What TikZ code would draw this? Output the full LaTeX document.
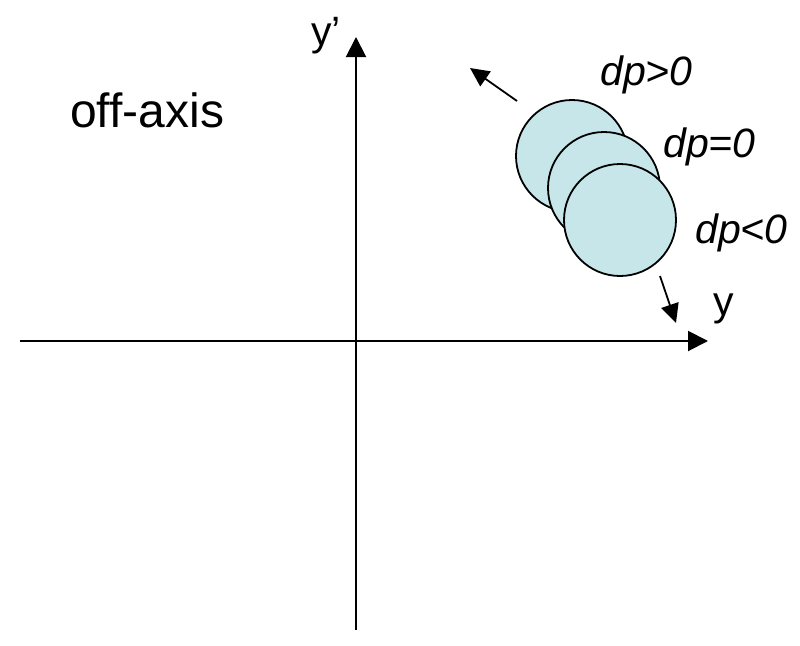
\documentclass[tikz,border=0pt]{standalone}
\usepackage{fontspec}
\setmainfont{Liberation Sans}
\usetikzlibrary{arrows.meta}
\definecolor{beam}{RGB}{198,230,233}
\begin{document}
\begin{tikzpicture}[x=1pt,y=-1pt,
  axis/.style={line width=2pt,-{Triangle[length=20pt,width=20pt]}},
  motion/.style={line width=1.8pt,-{Triangle[length=19pt,width=18pt]}},
  beamcircle/.style={circle,draw,line width=1.8pt,fill=beam,minimum size=112pt,inner sep=0pt},
  lbl/.style={anchor=base west,inner sep=0pt,font=\fontsize{41}{45}\selectfont},
  dplbl/.style={anchor=base west,inner sep=0pt,font=\fontsize{41}{45}\selectfont\itshape}]
\useasboundingbox (0,0) rectangle (800,645);
\fill[white] (0,0) rectangle (800,645);
% axes
\coordinate (hl) at (20,341);
\coordinate (hr) at (708,341);
\coordinate (vb) at (356,630);
\coordinate (vt) at (356,37);
\draw[axis] (hl) -- (hr);
\draw[axis] (vb) -- (vt);
% circles
\node[beamcircle] (c1) at (572,156) {};
\node[beamcircle] (c2) at (604,188) {};
\node[beamcircle] (c3) at (620,220) {};
% motion arrows
\coordinate (a1s) at (517,101);
\coordinate (a1e) at (470,68);
\coordinate (a2s) at (660,276);
\coordinate (a2e) at (676,323);
\draw[motion] (a1s) -- (a1e);
\draw[motion] (a2s) -- (a2e);
% labels
\node[lbl,font=\fontsize{48}{52}\selectfont] (off) at (70,127) {off-axis};
\node[lbl] (yp) at (311,45) {y’};
\node[lbl] (y) at (713,315) {y};
\node[dplbl] (dpg) at (600,85) {dp>0};
\node[dplbl] (dpe) at (663,157) {dp=0};
\node[dplbl] (dpl) at (695,243) {dp<0};
\end{tikzpicture}
\end{document}
